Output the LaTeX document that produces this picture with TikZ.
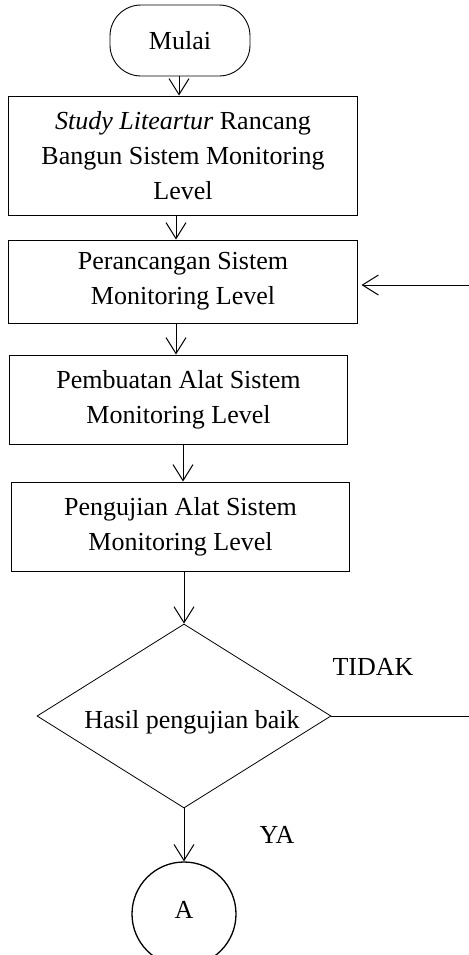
\documentclass[tikz,border=0pt]{standalone}
\usepackage{fontspec}
\setmainfont{Liberation Serif}
\usetikzlibrary{arrows.meta,shapes.geometric}
\begin{document}
\begin{tikzpicture}[x=1bp,y=-1bp,
  every node/.style={font=\fontsize{26bp}{35bp}\selectfont, inner sep=0pt},
  box/.style={draw, line width=1bp, align=center},
  arr/.style={line width=1bp, -{Straight Barb[length=16bp,width=20bp,line width=1bp]}},
  plain/.style={line width=1bp}]
\useasboundingbox (0,0) rectangle (469,955);
\node[draw, line width=0.9bp, rounded corners=31bp, minimum width=140bp, minimum height=71bp] (m) at (180,40.5) {Mulai};
\node[box, minimum width=348bp, minimum height=119bp] (b1) at (183,155.5) {\textit{Study Liteartur} Rancang\\Bangun Sistem Monitoring\\Level};
\node[box, minimum width=348bp, minimum height=83bp] (b2) at (183,281.5) {Perancangan Sistem\\Monitoring Level};
\node[box, minimum width=337bp, minimum height=89bp] (b3) at (178.5,399.5) {Pembuatan Alat Sistem\\Monitoring Level};
\node[box, minimum width=337bp, minimum height=89bp] (b4) at (180.5,526.5) {Pengujian Alat Sistem\\Monitoring Level};
\node[draw, line width=0.8bp, diamond, aspect=1.6, minimum width=294bp, minimum height=184bp] (d) at (184,716) {};
\node (dt) at (192,722) {Hasil pengujian baik};
\node (tidak) at (373,667) {TIDAK};
\node (ya) at (277,835) {YA};
\node[draw, circle, line width=1.3bp, minimum size=104bp] (A) at (184,914) {\raisebox{9bp}{A}};
\coordinate (fbtop) at (469,285);
\coordinate (fbbot) at (469,716);
\draw[arr] ([xshift=-1bp]m.south) -- ([xshift=-1bp]m.south |- b1.north);
\draw[arr] ([xshift=-7bp]b1.south) -- ([xshift=-7bp]b1.south |- b2.north);
\draw[arr] ([xshift=-7bp]b2.south) -- ([xshift=-7bp]b2.south |- b3.north);
\draw[arr] ([xshift=4.5bp]b3.south) -- ([xshift=4.5bp]b3.south |- b4.north);
\draw[arr] (b4.south -| d.north) -- (d.north);
\draw[arr] (d.south) -- (A.north);
\draw[plain] (d.east) -- (fbbot);
\draw[arr, shorten >=4bp] (fbtop) -- (fbtop -| b2.east);
\end{tikzpicture}
\end{document}
